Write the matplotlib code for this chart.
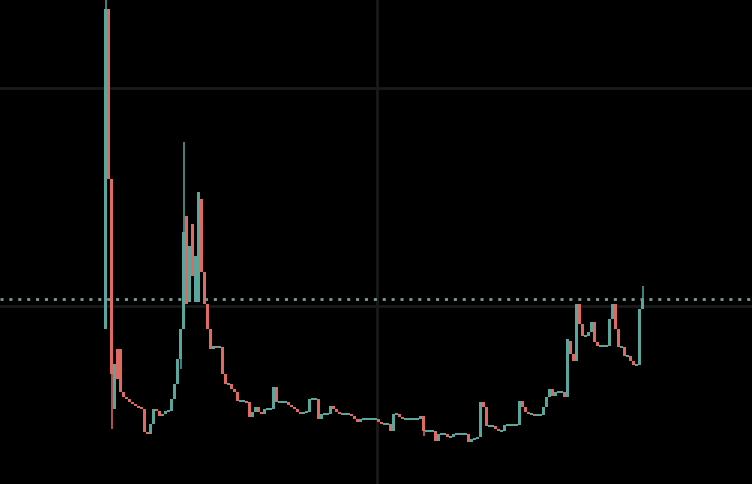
import matplotlib
matplotlib.use('Agg')
import matplotlib.pyplot as plt

# Dados - uma vela por período (abertura / fechamento)
aberturas = [
    1.55, 4.75, 3.05, 0.75, 1.35, 1.35, 0.92, 0.87, 0.85, 0.82,
    0.80, 0.78, 0.77, 0.75, 0.52, 0.50, 0.60, 0.75, 0.73, 0.68,
    0.70, 0.73, 0.73, 0.85, 1.00, 1.25, 1.55, 2.68, 1.82, 2.60,
    1.82, 1.82, 2.85, 2.12, 1.80, 1.55, 1.35, 1.38, 1.37, 1.37,
    1.10, 1.00, 1.00, 0.95, 0.92, 0.83, 0.83, 0.83, 0.82, 0.67,
    0.72, 0.77, 0.72, 0.70, 0.75, 0.75, 0.75, 0.97, 0.82, 0.82,
    0.82, 0.82, 0.79, 0.77, 0.75, 0.72, 0.70, 0.72, 0.72, 0.85,
    0.85, 0.85, 0.65, 0.70, 0.70, 0.70, 0.78, 0.75, 0.72, 0.70,
    0.70, 0.70, 0.70, 0.68, 0.65, 0.62, 0.65, 0.65, 0.65, 0.65,
    0.65, 0.65, 0.62, 0.60, 0.60, 0.60, 0.53, 0.70, 0.70, 0.67,
    0.65, 0.65, 0.65, 0.65, 0.65, 0.65, 0.68, 0.53, 0.53, 0.53,
    0.53, 0.43, 0.50, 0.50, 0.50, 0.47, 0.47, 0.50, 0.50, 0.50,
    0.50, 0.50, 0.42, 0.45, 0.45, 0.47, 0.82, 0.77, 0.58, 0.58,
    0.58, 0.55, 0.53, 0.53, 0.59, 0.59, 0.59, 0.59, 0.59, 0.83,
    0.77, 0.72, 0.70, 0.70, 0.69, 0.69, 0.69, 0.77, 0.87, 0.95,
    0.88, 0.92, 0.92, 0.92, 0.87, 1.43, 1.30, 1.23, 1.80, 1.60,
    1.48, 1.48, 1.52, 1.62, 1.42, 1.38, 1.38, 1.38, 1.38, 1.65,
    1.80, 1.55, 1.37, 1.37, 1.28, 1.28, 1.23, 1.19, 1.19, 1.75,
]

fechamentos = [
    4.75, 3.05, 1.10, 1.20, 1.05, 0.92, 0.87, 0.85, 0.82, 0.80,
    0.78, 0.77, 0.75, 0.52, 0.50, 0.60, 0.75, 0.73, 0.68, 0.70,
    0.73, 0.73, 0.85, 1.00, 1.25, 1.55, 2.52, 1.80, 2.38, 2.08,
    2.28, 2.92, 2.12, 1.80, 1.55, 1.35, 1.38, 1.37, 1.37, 1.10,
    1.00, 1.00, 0.95, 0.92, 0.83, 0.83, 0.83, 0.82, 0.67, 0.72,
    0.77, 0.72, 0.70, 0.75, 0.75, 0.75, 0.97, 0.82, 0.82, 0.82,
    0.82, 0.79, 0.77, 0.75, 0.72, 0.70, 0.72, 0.72, 0.85, 0.85,
    0.85, 0.65, 0.70, 0.70, 0.70, 0.78, 0.75, 0.72, 0.70, 0.70,
    0.70, 0.70, 0.68, 0.65, 0.62, 0.65, 0.65, 0.65, 0.65, 0.65,
    0.65, 0.62, 0.60, 0.60, 0.60, 0.53, 0.70, 0.70, 0.67, 0.65,
    0.65, 0.65, 0.65, 0.65, 0.65, 0.68, 0.53, 0.53, 0.53, 0.53,
    0.43, 0.50, 0.50, 0.50, 0.47, 0.47, 0.50, 0.50, 0.50, 0.50,
    0.50, 0.42, 0.45, 0.45, 0.47, 0.82, 0.77, 0.58, 0.58, 0.58,
    0.55, 0.53, 0.53, 0.59, 0.59, 0.59, 0.59, 0.59, 0.83, 0.77,
    0.72, 0.70, 0.70, 0.69, 0.69, 0.69, 0.77, 0.87, 0.95, 0.88,
    0.92, 0.92, 0.92, 0.87, 1.45, 1.30, 1.23, 1.80, 1.60, 1.48,
    1.48, 1.52, 1.62, 1.42, 1.38, 1.38, 1.38, 1.38, 1.65, 1.80,
    1.55, 1.37, 1.37, 1.28, 1.28, 1.23, 1.19, 1.19, 1.75, 1.855,
]

# pavios visíveis (índice da vela: preço)
maximas = {0: 4.95, 26: 3.42, 179: 1.98}
minimas = {2: 0.55, 25: 1.15, 106: 0.48}

cor_alta = '#5aa69c'
cor_baixa = '#df6a62'

fig = plt.figure(figsize=(7.52, 4.85), dpi=100, facecolor='black')
ax = fig.add_axes([0, 0, 1, 1])
ax.set_facecolor('black')

x = list(range(len(fechamentos)))
bases = []
alturas = []
cores = []
for o, c in zip(aberturas, fechamentos):
    h = abs(c - o)
    b = min(o, c)
    if h < 0.02:
        b = b - (0.02 - h) / 2
        h = 0.02
    bases.append(b)
    alturas.append(h)
    cores.append(cor_alta if c >= o else cor_baixa)

ax.bar(x, alturas, bottom=bases, width=0.9, color=cores, linewidth=0, zorder=3)

for i, topo in maximas.items():
    ax.vlines(i, max(aberturas[i], fechamentos[i]), topo, color=cores[i], linewidth=1.1, zorder=3)
for i, fundo in minimas.items():
    ax.vlines(i, fundo, min(aberturas[i], fechamentos[i]), color=cores[i], linewidth=1.1, zorder=3)

# linha do último preço
ax.axhline(fechamentos[-1], color='#7a9e97', linewidth=2.0, linestyle=(0, (1.1, 2.1)), zorder=2.5)

ax.set_xlim(-35.17, 215.5)
ax.set_ylim(0, 4.85)
ax.set_xticks([90.5])
ax.set_yticks([1.78, 3.965])
ax.grid(True, color='#1a1a1a', linewidth=2)
ax.set_axisbelow(True)
ax.tick_params(length=0, labelleft=False, labelbottom=False)
for s in ax.spines.values():
    s.set_visible(False)

fig.savefig('out.png', dpi=100, facecolor='black')
